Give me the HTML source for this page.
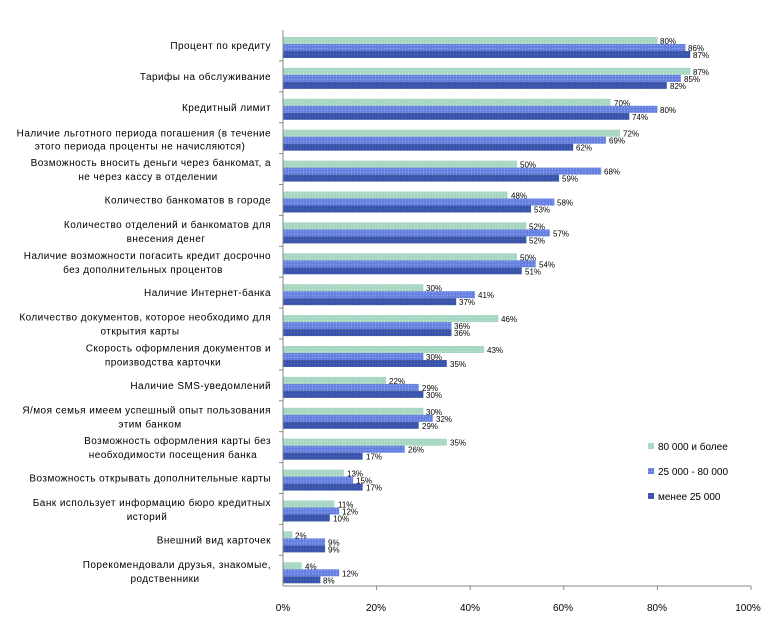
<!DOCTYPE html>
<html><head><meta charset="utf-8"><style>
body{margin:0;background:#fff}
svg text{font-family:"Liberation Sans",sans-serif;fill:#000}
.l{font-size:10px;text-anchor:end;letter-spacing:0.45px}
.m{font-size:10px;text-anchor:middle;letter-spacing:0.45px}
.v{font-size:8px}
</style></head><body>
<svg width="780" height="633" xmlns="http://www.w3.org/2000/svg">
<defs>
<pattern id="p1" width="3" height="3" patternUnits="userSpaceOnUse"><rect width="3" height="3" fill="#a6d6c4"/><rect width="1" height="1" fill="#c9e6bf"/></pattern>
<pattern id="p2" width="3" height="3" patternUnits="userSpaceOnUse"><rect width="3" height="3" fill="#6680e0"/><rect width="1" height="1" fill="#9ab0f0"/></pattern>
<pattern id="p3" width="3" height="3" patternUnits="userSpaceOnUse"><rect width="3" height="3" fill="#3a52b4"/><rect width="1" height="1" fill="#4f7a70"/></pattern>
</defs>

<g transform="translate(0,30)"><line x1="279" y1="30.9" x2="283" y2="30.9" stroke="#888"/>
<text class="l" x="271" y="19">Процент по кредиту</text>
<rect x="283" y="7" width="374.4" height="7" fill="url(#p1)"/><text class="v" x="660" y="14">80%</text>
<rect x="283" y="14" width="402.5" height="7" fill="url(#p2)"/><text class="v" x="688" y="21">86%</text>
<rect x="283" y="21" width="407.2" height="7" fill="url(#p3)"/><text class="v" x="693" y="28">87%</text></g>

<g transform="translate(0,60.9)"><line x1="279" y1="30.9" x2="283" y2="30.9" stroke="#888"/>
<text class="l" x="271" y="19">Тарифы на обслуживание</text>
<rect x="283" y="7" width="407.2" height="7" fill="url(#p1)"/><text class="v" x="693" y="14">87%</text>
<rect x="283" y="14" width="397.8" height="7" fill="url(#p2)"/><text class="v" x="684" y="21">85%</text>
<rect x="283" y="21" width="383.8" height="7" fill="url(#p3)"/><text class="v" x="670" y="28">82%</text></g>

<g transform="translate(0,91.8)"><line x1="279" y1="30.9" x2="283" y2="30.9" stroke="#888"/>
<text class="l" x="271" y="19">Кредитный лимит</text>
<rect x="283" y="7" width="327.6" height="7" fill="url(#p1)"/><text class="v" x="614" y="14">70%</text>
<rect x="283" y="14" width="374.4" height="7" fill="url(#p2)"/><text class="v" x="660" y="21">80%</text>
<rect x="283" y="21" width="346.3" height="7" fill="url(#p3)"/><text class="v" x="632" y="28">74%</text></g>

<g transform="translate(0,122.7)"><line x1="279" y1="30.9" x2="283" y2="30.9" stroke="#888"/>
<text class="l" x="271" y="14">Наличие льготного периода погашения (в течение</text>
<text class="m" x="140" y="27">этого периода проценты не начисляются)</text>
<rect x="283" y="7" width="337" height="7" fill="url(#p1)"/><text class="v" x="623" y="14">72%</text>
<rect x="283" y="14" width="322.9" height="7" fill="url(#p2)"/><text class="v" x="609" y="21">69%</text>
<rect x="283" y="21" width="290.2" height="7" fill="url(#p3)"/><text class="v" x="576" y="28">62%</text></g>

<g transform="translate(0,153.6)"><line x1="279" y1="30.9" x2="283" y2="30.9" stroke="#888"/>
<text class="l" x="271" y="12.5">Возможность вносить деньги через банкомат, а</text>
<text class="m" x="148" y="26.5">не через кассу в отделении</text>
<rect x="283" y="7" width="234" height="7" fill="url(#p1)"/><text class="v" x="520" y="14">50%</text>
<rect x="283" y="14" width="318.2" height="7" fill="url(#p2)"/><text class="v" x="604" y="21">68%</text>
<rect x="283" y="21" width="276.1" height="7" fill="url(#p3)"/><text class="v" x="562" y="28">59%</text></g>

<g transform="translate(0,184.5)"><line x1="279" y1="30.9" x2="283" y2="30.9" stroke="#888"/>
<text class="l" x="271" y="19">Количество банкоматов в городе</text>
<rect x="283" y="7" width="224.6" height="7" fill="url(#p1)"/><text class="v" x="511" y="14">48%</text>
<rect x="283" y="14" width="271.4" height="7" fill="url(#p2)"/><text class="v" x="557" y="21">58%</text>
<rect x="283" y="21" width="248" height="7" fill="url(#p3)"/><text class="v" x="534" y="28">53%</text></g>

<g transform="translate(0,215.4)"><line x1="279" y1="30.9" x2="283" y2="30.9" stroke="#888"/>
<text class="l" x="271" y="12.5">Количество отделений и банкоматов для</text>
<text class="m" x="166" y="26.5">внесения денег</text>
<rect x="283" y="7" width="243.4" height="7" fill="url(#p1)"/><text class="v" x="529" y="14">52%</text>
<rect x="283" y="14" width="266.8" height="7" fill="url(#p2)"/><text class="v" x="553" y="21">57%</text>
<rect x="283" y="21" width="243.4" height="7" fill="url(#p3)"/><text class="v" x="529" y="28">52%</text></g>

<g transform="translate(0,246.3)"><line x1="279" y1="30.9" x2="283" y2="30.9" stroke="#888"/>
<text class="l" x="271" y="12.5">Наличие возможности погасить кредит досрочно</text>
<text class="m" x="143" y="26.5">без дополнительных процентов</text>
<rect x="283" y="7" width="234" height="7" fill="url(#p1)"/><text class="v" x="520" y="14">50%</text>
<rect x="283" y="14" width="252.7" height="7" fill="url(#p2)"/><text class="v" x="539" y="21">54%</text>
<rect x="283" y="21" width="238.7" height="7" fill="url(#p3)"/><text class="v" x="525" y="28">51%</text></g>

<g transform="translate(0,277.2)"><line x1="279" y1="30.9" x2="283" y2="30.9" stroke="#888"/>
<text class="l" x="271" y="19">Наличие Интернет-банка</text>
<rect x="283" y="7" width="140.4" height="7" fill="url(#p1)"/><text class="v" x="426" y="14">30%</text>
<rect x="283" y="14" width="191.9" height="7" fill="url(#p2)"/><text class="v" x="478" y="21">41%</text>
<rect x="283" y="21" width="173.2" height="7" fill="url(#p3)"/><text class="v" x="459" y="28">37%</text></g>

<g transform="translate(0,308.1)"><line x1="279" y1="30.9" x2="283" y2="30.9" stroke="#888"/>
<text class="l" x="271" y="12.5">Количество документов, которое необходимо для</text>
<text class="m" x="140" y="26.5">открытия карты</text>
<rect x="283" y="7" width="215.3" height="7" fill="url(#p1)"/><text class="v" x="501" y="14">46%</text>
<rect x="283" y="14" width="168.5" height="7" fill="url(#p2)"/><text class="v" x="454" y="21">36%</text>
<rect x="283" y="21" width="168.5" height="7" fill="url(#p3)"/><text class="v" x="454" y="28">36%</text></g>

<g transform="translate(0,339)"><line x1="279" y1="30.9" x2="283" y2="30.9" stroke="#888"/>
<text class="l" x="271" y="12.5">Скорость оформления документов и</text>
<text class="m" x="163" y="26.5">производства карточки</text>
<rect x="283" y="7" width="201.2" height="7" fill="url(#p1)"/><text class="v" x="487" y="14">43%</text>
<rect x="283" y="14" width="140.4" height="7" fill="url(#p2)"/><text class="v" x="426" y="21">30%</text>
<rect x="283" y="21" width="163.8" height="7" fill="url(#p3)"/><text class="v" x="450" y="28">35%</text></g>

<g transform="translate(0,369.9)"><line x1="279" y1="30.9" x2="283" y2="30.9" stroke="#888"/>
<text class="l" x="271" y="19">Наличие SMS-уведомлений</text>
<rect x="283" y="7" width="103" height="7" fill="url(#p1)"/><text class="v" x="389" y="14">22%</text>
<rect x="283" y="14" width="135.7" height="7" fill="url(#p2)"/><text class="v" x="422" y="21">29%</text>
<rect x="283" y="21" width="140.4" height="7" fill="url(#p3)"/><text class="v" x="426" y="28">30%</text></g>

<g transform="translate(0,400.8)"><line x1="279" y1="30.9" x2="283" y2="30.9" stroke="#888"/>
<text class="l" x="271" y="12.5">Я/моя семья имеем успешный опыт пользования</text>
<text class="m" x="150" y="26.5">этим банком</text>
<rect x="283" y="7" width="140.4" height="7" fill="url(#p1)"/><text class="v" x="426" y="14">30%</text>
<rect x="283" y="14" width="149.8" height="7" fill="url(#p2)"/><text class="v" x="436" y="21">32%</text>
<rect x="283" y="21" width="135.7" height="7" fill="url(#p3)"/><text class="v" x="422" y="28">29%</text></g>

<g transform="translate(0,431.7)"><line x1="279" y1="30.9" x2="283" y2="30.9" stroke="#888"/>
<text class="l" x="271" y="12.5">Возможность оформления  карты без</text>
<text class="m" x="173" y="26.5">необходимости посещения  банка</text>
<rect x="283" y="7" width="163.8" height="7" fill="url(#p1)"/><text class="v" x="450" y="14">35%</text>
<rect x="283" y="14" width="121.7" height="7" fill="url(#p2)"/><text class="v" x="408" y="21">26%</text>
<rect x="283" y="21" width="79.6" height="7" fill="url(#p3)"/><text class="v" x="366" y="28">17%</text></g>

<g transform="translate(0,462.6)"><line x1="279" y1="30.9" x2="283" y2="30.9" stroke="#888"/>
<text class="l" x="271" y="19">Возможность открывать дополнительные карты</text>
<rect x="283" y="7" width="60.8" height="7" fill="url(#p1)"/><text class="v" x="347" y="14">13%</text>
<rect x="283" y="14" width="70.2" height="7" fill="url(#p2)"/><text class="v" x="356" y="21">15%</text>
<rect x="283" y="21" width="79.6" height="7" fill="url(#p3)"/><text class="v" x="366" y="28">17%</text></g>

<g transform="translate(0,493.5)"><line x1="279" y1="30.9" x2="283" y2="30.9" stroke="#888"/>
<text class="l" x="271" y="12.5">Банк использует информацию бюро кредитных</text>
<text class="m" x="147" y="26.5">историй</text>
<rect x="283" y="7" width="51.5" height="7" fill="url(#p1)"/><text class="v" x="338" y="14">11%</text>
<rect x="283" y="14" width="56.2" height="7" fill="url(#p2)"/><text class="v" x="342" y="21">12%</text>
<rect x="283" y="21" width="46.8" height="7" fill="url(#p3)"/><text class="v" x="333" y="28">10%</text></g>

<g transform="translate(0,524.4)"><line x1="279" y1="30.9" x2="283" y2="30.9" stroke="#888"/>
<text class="l" x="271" y="19">Внешний вид карточек</text>
<rect x="283" y="7" width="9.4" height="7" fill="url(#p1)"/><text class="v" x="295" y="14">2%</text>
<rect x="283" y="14" width="42.1" height="7" fill="url(#p2)"/><text class="v" x="328" y="21">9%</text>
<rect x="283" y="21" width="42.1" height="7" fill="url(#p3)"/><text class="v" x="328" y="28">9%</text></g>

<g transform="translate(0,555.3)">
<text class="l" x="271" y="12.5">Порекомендовали друзья, знакомые,</text>
<text class="m" x="165" y="26.5">родственники</text>
<rect x="283" y="7" width="18.7" height="7" fill="url(#p1)"/><text class="v" x="305" y="14">4%</text>
<rect x="283" y="14" width="56.2" height="7" fill="url(#p2)"/><text class="v" x="342" y="21">12%</text>
<rect x="283" y="21" width="37.4" height="7" fill="url(#p3)"/><text class="v" x="323" y="28">8%</text></g>

<line x1="283" y1="30" x2="283" y2="586" stroke="#888"/>
<line x1="283" y1="586" x2="751" y2="586" stroke="#888"/>
<g stroke="#888"><line x1="376.6" y1="586" x2="376.6" y2="590"/><line x1="470.2" y1="586" x2="470.2" y2="590"/><line x1="563.8" y1="586" x2="563.8" y2="590"/><line x1="657.4" y1="586" x2="657.4" y2="590"/><line x1="751" y1="586" x2="751" y2="590"/></g>
<g font-size="10" text-anchor="middle">
<text x="283" y="611">0%</text><text x="376" y="611">20%</text><text x="470" y="611">40%</text><text x="563" y="611">60%</text><text x="657" y="611">80%</text><text x="748" y="611">100%</text>
</g>
<g font-size="10">
<rect x="648" y="443" width="6" height="6" fill="url(#p1)"/><text x="658" y="450">80 000 и более</text>
<rect x="648" y="468" width="6" height="6" fill="url(#p2)"/><text x="658" y="475">25 000 - 80 000</text>
<rect x="648" y="493" width="6" height="6" fill="url(#p3)"/><text x="658" y="500">менее 25 000</text>
</g>
</svg>
</body></html>
